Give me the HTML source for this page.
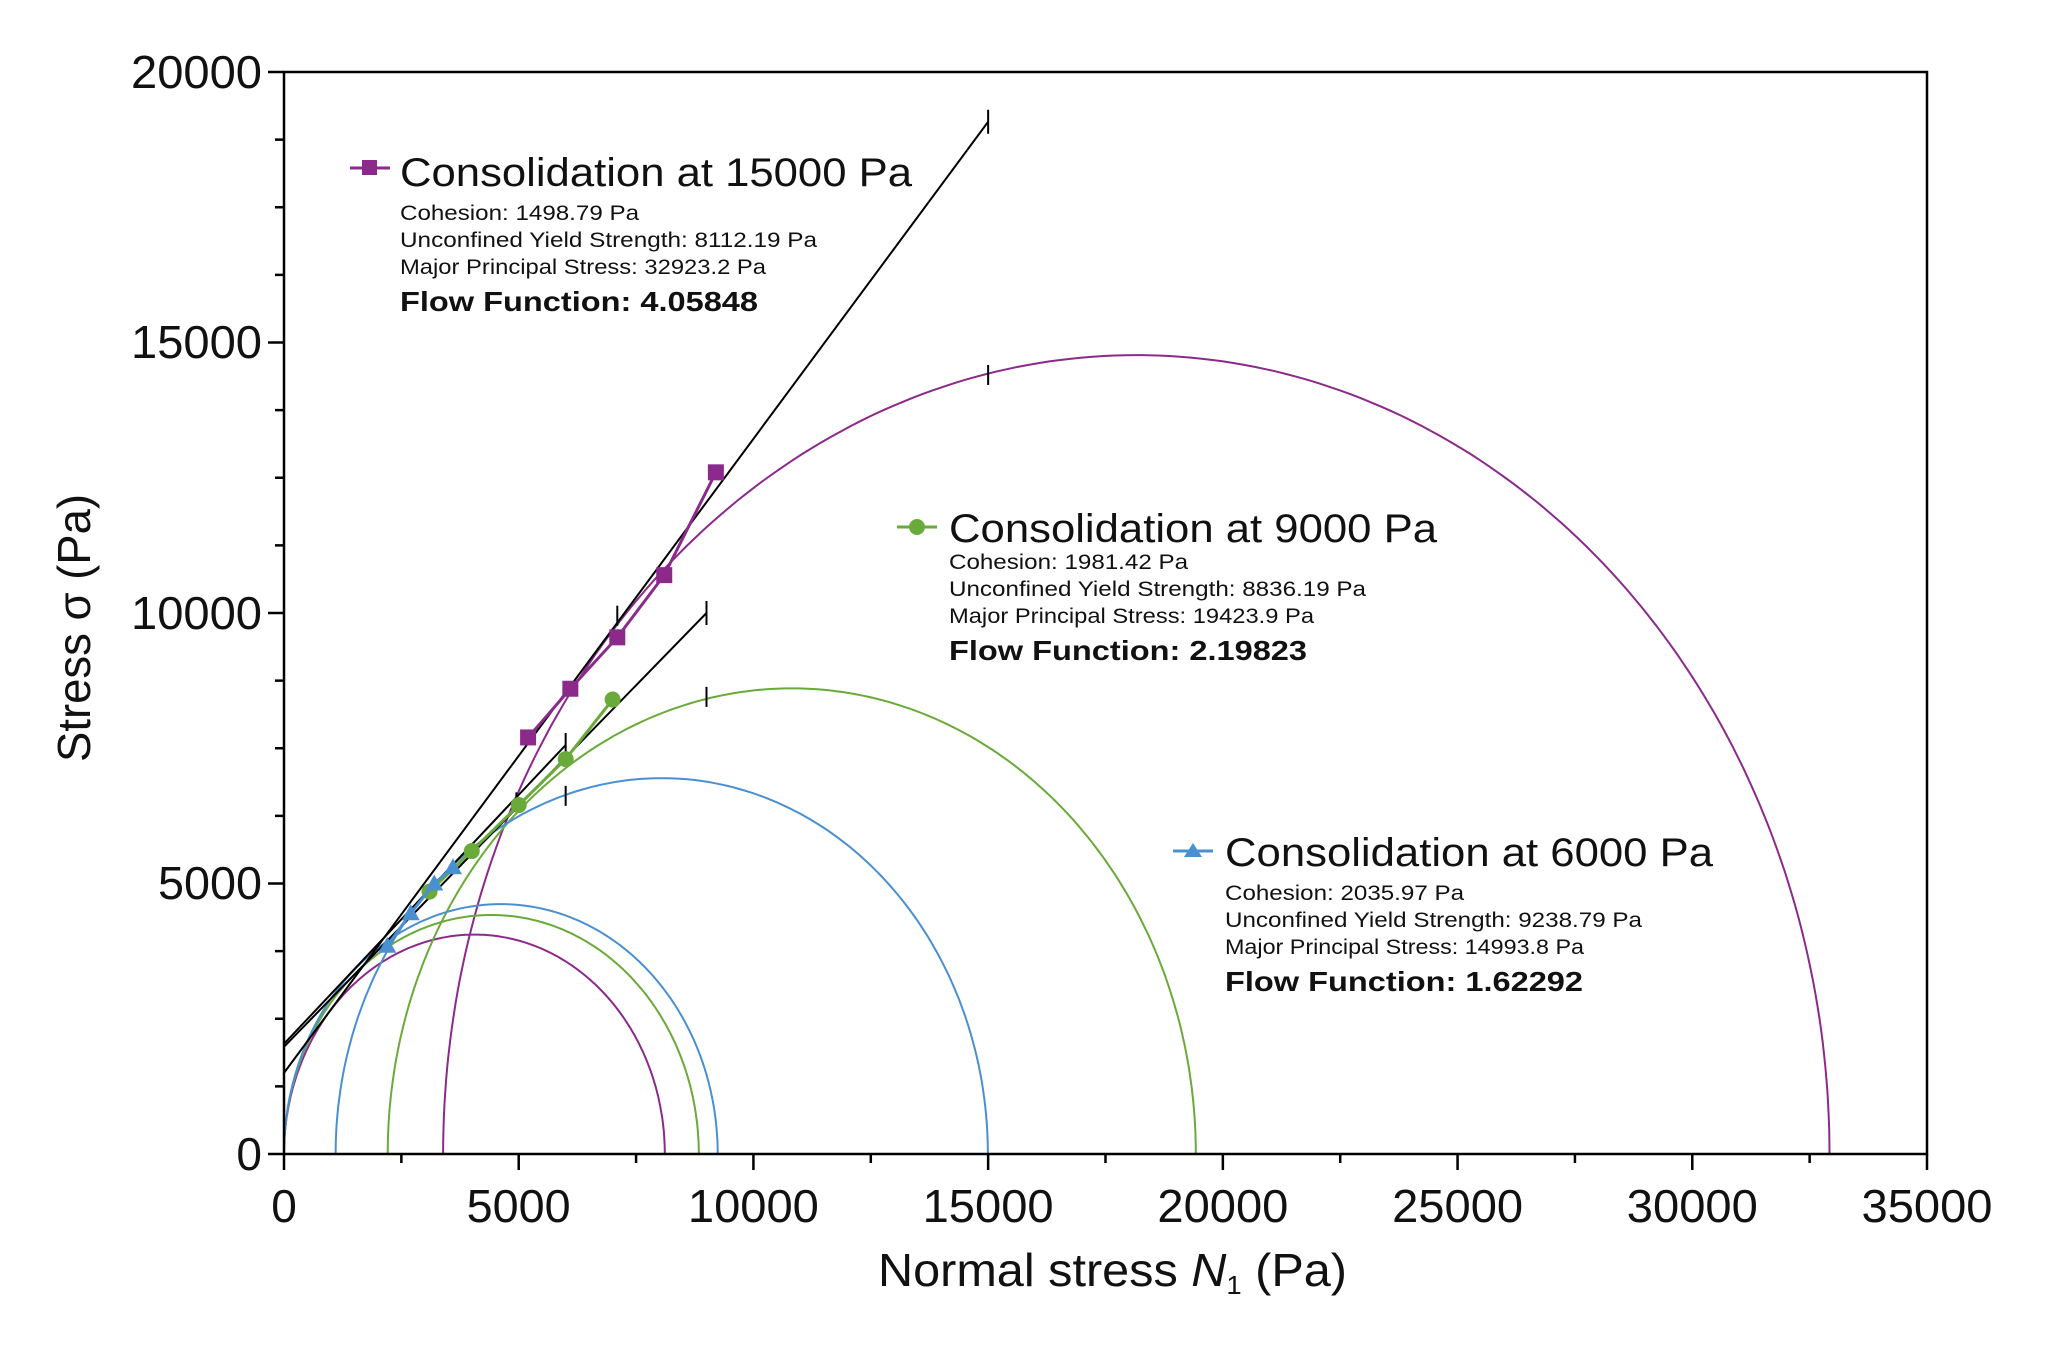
<!DOCTYPE html>
<html><head><meta charset="utf-8"><style>
html,body{margin:0;padding:0;background:#fff;}
svg{display:block;font-family:"Liberation Sans",sans-serif;}
</style></head><body>
<svg id="s" width="2048" height="1353" viewBox="0 0 2048 1353" xmlns="http://www.w3.org/2000/svg">
<g id="plot"></g>
<rect x="284" y="72" width="1643" height="1082" fill="none" stroke="#000" stroke-width="2.5"/>
<g font-size="46" fill="#111" text-anchor="end" lengthAdjust="spacingAndGlyphs">
<text x="262" y="1170">0</text>
<text x="262" y="899" textLength="104" lengthAdjust="spacingAndGlyphs">5000</text>
<text x="262" y="629" textLength="131" lengthAdjust="spacingAndGlyphs">10000</text>
<text x="262" y="358" textLength="131" lengthAdjust="spacingAndGlyphs">15000</text>
<text x="262" y="88" textLength="131" lengthAdjust="spacingAndGlyphs">20000</text>
</g>
<g font-size="46" fill="#111" text-anchor="middle">
<text x="284" y="1222">0</text>
<text x="518.7" y="1222" textLength="104" lengthAdjust="spacingAndGlyphs">5000</text>
<text x="753.4" y="1222" textLength="131" lengthAdjust="spacingAndGlyphs">10000</text>
<text x="988.1" y="1222" textLength="131" lengthAdjust="spacingAndGlyphs">15000</text>
<text x="1222.9" y="1222" textLength="131" lengthAdjust="spacingAndGlyphs">20000</text>
<text x="1457.6" y="1222" textLength="131" lengthAdjust="spacingAndGlyphs">25000</text>
<text x="1692.3" y="1222" textLength="131" lengthAdjust="spacingAndGlyphs">30000</text>
<text x="1927" y="1222" textLength="131" lengthAdjust="spacingAndGlyphs">35000</text>
</g>
<text x="878" y="1286" font-size="46" fill="#111" textLength="469" lengthAdjust="spacingAndGlyphs">Normal stress <tspan font-style="italic">N</tspan><tspan font-size="26" dy="8">1</tspan><tspan dy="-8"> (Pa)</tspan></text>
<text transform="translate(90,628) rotate(-90)" font-size="46" text-anchor="middle" fill="#111" textLength="268" lengthAdjust="spacingAndGlyphs">Stress σ (Pa)</text>

<g fill="#111">
<text x="400" y="186" font-size="40" textLength="512" lengthAdjust="spacingAndGlyphs">Consolidation at 15000 Pa</text>
<text x="400" y="220" font-size="21" textLength="239" lengthAdjust="spacingAndGlyphs">Cohesion: 1498.79 Pa</text>
<text x="400" y="247" font-size="21" textLength="417" lengthAdjust="spacingAndGlyphs">Unconfined Yield Strength: 8112.19 Pa</text>
<text x="400" y="274" font-size="21" textLength="366" lengthAdjust="spacingAndGlyphs">Major Principal Stress: 32923.2 Pa</text>
<text x="400" y="311" font-size="28" font-weight="bold" textLength="358" lengthAdjust="spacingAndGlyphs">Flow Function: 4.05848</text>

<text x="949" y="542" font-size="40" textLength="488" lengthAdjust="spacingAndGlyphs">Consolidation at 9000 Pa</text>
<text x="949" y="569" font-size="21" textLength="239" lengthAdjust="spacingAndGlyphs">Cohesion: 1981.42 Pa</text>
<text x="949" y="596" font-size="21" textLength="417" lengthAdjust="spacingAndGlyphs">Unconfined Yield Strength: 8836.19 Pa</text>
<text x="949" y="623" font-size="21" textLength="365" lengthAdjust="spacingAndGlyphs">Major Principal Stress: 19423.9 Pa</text>
<text x="949" y="660" font-size="28" font-weight="bold" textLength="358" lengthAdjust="spacingAndGlyphs">Flow Function: 2.19823</text>

<text x="1225" y="866" font-size="40" textLength="488" lengthAdjust="spacingAndGlyphs">Consolidation at 6000 Pa</text>
<text x="1225" y="900" font-size="21" textLength="239" lengthAdjust="spacingAndGlyphs">Cohesion: 2035.97 Pa</text>
<text x="1225" y="927" font-size="21" textLength="417" lengthAdjust="spacingAndGlyphs">Unconfined Yield Strength: 9238.79 Pa</text>
<text x="1225" y="954" font-size="21" textLength="359" lengthAdjust="spacingAndGlyphs">Major Principal Stress: 14993.8 Pa</text>
<text x="1225" y="991" font-size="28" font-weight="bold" textLength="358" lengthAdjust="spacingAndGlyphs">Flow Function: 1.62292</text>
</g>
<g stroke-width="3">
<line x1="350" y1="168" x2="390" y2="168" stroke="#8b2a8b"/><rect x="362" y="160" width="15" height="15" fill="#8b2a8b"/>
<line x1="897" y1="527" x2="937" y2="527" stroke="#6aaa3a"/><circle cx="917" cy="527" r="8" fill="#6aaa3a"/>
<line x1="1173" y1="851" x2="1213" y2="851" stroke="#4a90d0"/><polygon points="1193,843 1202,857 1184,857" fill="#4a90d0"/>
</g>
</svg>
<script>
var X=v=>284+v*1643/35000, Y=v=>1154-v*1082/20000;
var g=document.getElementById('plot'),ns="http://www.w3.org/2000/svg";
function el(t,a){var e=document.createElementNS(ns,t);for(var k in a)e.setAttribute(k,a[k]);g.appendChild(e);return e;}
for(var v=0;v<=35000;v+=2500){var M=v%5000==0;el('line',{x1:X(v),x2:X(v),y1:1154,y2:1154+(M?16:9),stroke:'#000','stroke-width':2.5});}
for(var v=0;v<=20000;v+=1250){var M=v%5000==0;el('line',{x1:284,x2:284-(M?16:9),y1:Y(v),y2:Y(v),stroke:'#000','stroke-width':2.5});}
function circ(a,b,c){var cx=(a+b)/2,r=(b-a)/2,d='';for(var i=0;i<=200;i++){var t=Math.PI*i/200;d+=(i?'L':'M')+X(cx-r*Math.cos(t)).toFixed(1)+','+Y(r*Math.sin(t)).toFixed(1);}el('path',{d:d,fill:'none',stroke:c,'stroke-width':2});}
var P='#8b2a8b',G='#6aaa3a',B='#4a90d0';
circ(3390,32923,P);circ(0,8112,P);
circ(2210,19424,G);circ(0,8836,G);
circ(1100,14994,B);circ(0,9239,B);
function line(y0,x1,y1){el('line',{x1:X(0),y1:Y(y0),x2:X(x1),y2:Y(y1),stroke:'#000','stroke-width':2});el('line',{x1:X(x1),x2:X(x1),y1:Y(y1)-12,y2:Y(y1)+12,stroke:'#000','stroke-width':2});}
line(1499,15000,19080);line(1981,9000,10000);line(2036,6000,7560);
[[15000,14400],[9000,8450],[6000,6620],[7100,9950],[4950,6500]].forEach(p=>el('line',{x1:X(p[0]),x2:X(p[0]),y1:Y(p[1])-10,y2:Y(p[1])+10,stroke:'#000','stroke-width':2}));
function series(pts,c,m){var d='';pts.forEach((p,i)=>d+=(i?'L':'M')+X(p[0])+','+Y(p[1]));el('path',{d:d,fill:'none',stroke:c,'stroke-width':3});
pts.forEach(p=>{var x=X(p[0]),y=Y(p[1]);if(m=='s')el('rect',{x:x-8,y:y-8,width:16,height:16,fill:c});else if(m=='c')el('circle',{cx:x,cy:y,r:8,fill:c});else el('polygon',{points:(x)+','+(y-9)+' '+(x+9)+','+(y+7)+' '+(x-9)+','+(y+7),fill:c});});}
series([[5200,7700],[6100,8600],[7100,9550],[8100,10700],[9200,12600]],P,'s');
series([[3100,4850],[4000,5600],[5000,6450],[6000,7300],[7000,8400]],G,'c');
series([[2200,3850],[2700,4450],[3200,5000],[3600,5300]],B,'t');
</script>
</body></html>
